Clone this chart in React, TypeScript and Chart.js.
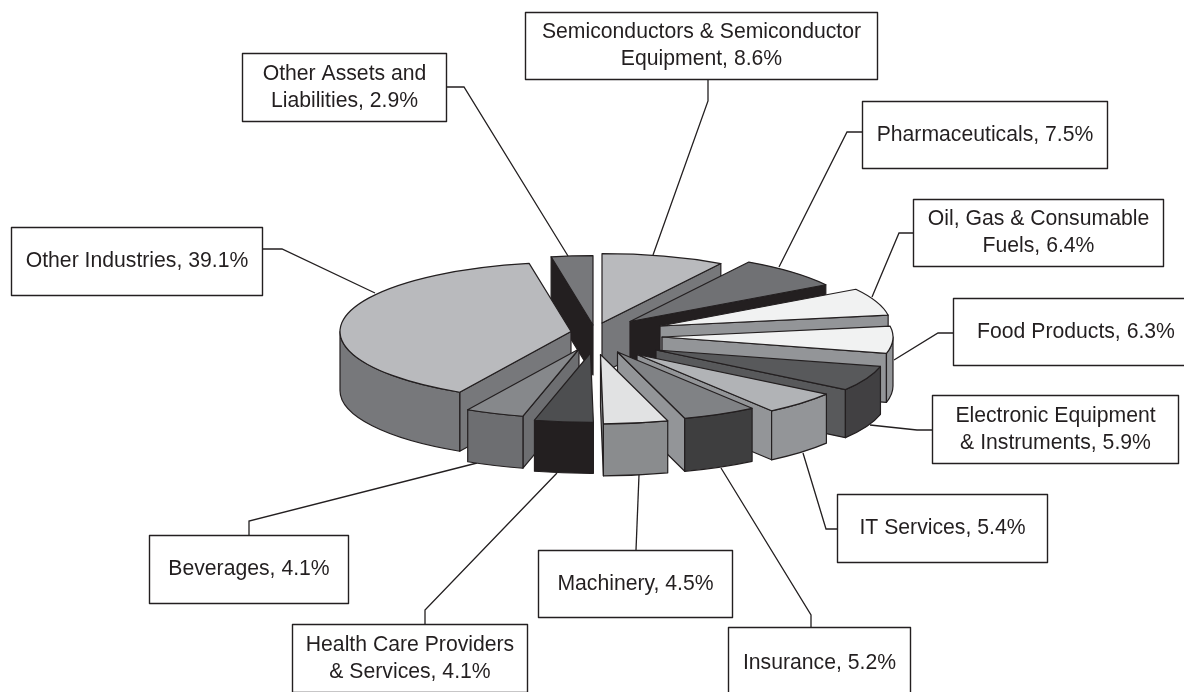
import React, { useEffect, useRef } from "react";
import { Chart, registerables } from "chart.js";

Chart.register(...registerables);

const categories = [
  "Semiconductors & Semiconductor Equipment",
  "Pharmaceuticals",
  "Oil, Gas & Consumable Fuels",
  "Food Products",
  "Electronic Equipment & Instruments",
  "IT Services",
  "Insurance",
  "Machinery",
  "Health Care Providers & Services",
  "Beverages",
  "Other Industries",
  "Other Assets and Liabilities",
];
const shares = [8.6, 7.5, 6.4, 6.3, 5.9, 5.4, 5.2, 4.5, 4.1, 4.1, 39.1, 2.9];

const labelLines = [
  ["Semiconductors & Semiconductor", "Equipment, 8.6%"],
  ["Pharmaceuticals, 7.5%"],
  ["Oil, Gas & Consumable", "Fuels, 6.4%"],
  ["Food Products, 6.3%"],
  ["Electronic Equipment", "& Instruments, 5.9%"],
  ["IT Services, 5.4%"],
  ["Insurance, 5.2%"],
  ["Machinery, 4.5%"],
  ["Health Care Providers", "& Services, 4.1%"],
  ["Beverages, 4.1%"],
  ["Other Industries, 39.1%"],
  ["Other Assets and", "Liabilities, 2.9%"],
];

// Styling per slice: top face, outer wall, cut wall
const topColors = ["#b9babd", "#707174", "#f1f2f2", "#f1f2f2", "#58595b", "#b1b3b6", "#808285", "#e1e2e3", "#4d4e50", "#86888b", "#b9babd", "#77787b"];
const outerColors = ["#b9babd", "#707174", "#939598", "#939598", "#414042", "#939598", "#3e3e3f", "#8a8c8e", "#231f20", "#6d6e71", "#77787b", "#77787b"];
const wallColors = ["#77787b", "#231f20", "#939598", "#939598", "#58595b", "#939598", "#939598", "#8a8c8e", "#231f20", "#6d6e71", "#77787b", "#231f20"];

// Layout: how far each slice is pulled from the pie centre, in px
const pullX = [10, 38, 68, 70, 64, 45, 25.5, 8.5, -1.5, -13, -21, 1];
const pullY = [-10, -11.5, -7, 4, 17, 21.5, 19, 21.5, 20, 16, -1.5, -8];
const depths = [50, 50, 50, 49, 48, 49, 53, 52, 51, 52, 59, 50];

// Layout: label boxes [left, top, right, bottom]
const boxes = [
  [525, 12, 878, 80],
  [862, 101, 1108, 169],
  [913, 199, 1164, 267],
  [953, 298, 1199, 366],
  [932, 395, 1179, 464],
  [837, 494, 1048, 563],
  [728, 627, 911, 699],
  [538, 550, 733, 618],
  [292, 624, 528, 693],
  [149, 535, 349, 604],
  [11, 227, 263, 296],
  [242, 53, 447, 122],
];
// Layout: leader polylines
const leaders = [
  [[708, 80], [708, 101], [653, 255]],
  [[862, 132], [847, 132], [779, 267]],
  [[913, 233], [899, 233], [872, 297]],
  [[953, 333], [938, 333], [894, 360]],
  [[932, 430], [917, 430], [870, 425]],
  [[837, 529], [826, 529], [803, 453]],
  [[811, 627], [811, 615], [721, 468]],
  [[636, 550], [639, 475]],
  [[425, 624], [425, 610], [557, 473]],
  [[249, 535], [249, 521], [477, 463]],
  [[263, 249], [282, 249], [375, 293]],
  [[447, 87], [464, 87], [568, 256]],
];

const SQUASH = 0.3;
const INK = "#231f20";
const FONT = '21.2px "Liberation Sans", Arial, sans-serif';
const LINE_GAP = 27;

const pie3d = {
  id: "pie3d",
  beforeDatasetDraw(chart: any) {
    const { ctx } = chart;
    const arcs = chart.getDatasetMeta(0).data;
    const order = arcs
      .map((arc: any, i: number) => {
        const mid = (arc.startAngle + arc.endAngle) / 2;
        return { i, key: Math.sin(mid) };
      })
      .sort((a: any, b: any) => a.key - b.key);

    const face = (fill: string, trace: () => void) => {
      ctx.beginPath();
      trace();
      ctx.closePath();
      ctx.fillStyle = fill;
      ctx.fill();
      ctx.lineWidth = 1.2;
      ctx.lineJoin = "round";
      ctx.strokeStyle = INK;
      ctx.stroke();
    };

    ctx.save();
    // Leader lines go under the pie
    ctx.strokeStyle = INK;
    ctx.lineWidth = 1.3;
    leaders.forEach((pts) => {
      ctx.beginPath();
      pts.forEach(([x, y], n) => (n ? ctx.lineTo(x, y) : ctx.moveTo(x, y)));
      ctx.stroke();
    });

    order.forEach(({ i }: any) => {
      const arc = arcs[i];
      const r = arc.outerRadius;
      const ry = r * SQUASH;
      const ax = arc.x + pullX[i];
      const ay = arc.y + pullY[i];
      const a0 = arc.startAngle;
      const a1 = arc.endAngle;
      const d = depths[i];
      const pt = (a: number, dz = 0): [number, number] => [ax + r * Math.cos(a), ay + ry * Math.sin(a) + dz];
      const ring = (from: number, to: number, dz: number, ccw = false) =>
        ctx.ellipse(ax, ay + dz, r, ry, 0, from, to, ccw);

      const mid = (a0 + a1) / 2;
      const m = [Math.cos(mid), SQUASH * Math.sin(mid)];
      [a0, a1].forEach((a) => {
        const e = [Math.cos(a), SQUASH * Math.sin(a)];
        let nx = -e[1];
        let ny = e[0];
        if (nx * m[0] + ny * m[1] < 0) {
          nx = -nx;
          ny = -ny;
        }
        if (ny < -1e-3) {
          const p = pt(a);
          face(wallColors[i], () => {
            ctx.moveTo(ax, ay);
            ctx.lineTo(p[0], p[1]);
            ctx.lineTo(p[0], p[1] + d);
            ctx.lineTo(ax, ay + d);
          });
        }
      });

      // Outer wall: only where the rim faces the viewer (sin > 0)
      const from = Math.max(a0, 0);
      const to = Math.min(a1, Math.PI);
      const wrapFrom = Math.max(a0, 2 * Math.PI);
      const wrapTo = Math.min(a1, 3 * Math.PI);
      const rim = (s: number, t: number) => {
        if (t <= s) return;
        face(outerColors[i], () => {
          ring(s, t, 0);
          ring(t, s, d, true);
        });
      };
      rim(from, to);
      rim(wrapFrom, wrapTo);

      face(topColors[i], () => {
        ctx.moveTo(ax, ay);
        ring(a0, a1, 0);
      });
    });

    // Label boxes
    ctx.font = FONT;
    ctx.textAlign = "center";
    ctx.textBaseline = "middle";
    boxes.forEach(([l, t, r, b], i) => {
      ctx.fillStyle = "#ffffff";
      ctx.strokeStyle = INK;
      ctx.lineWidth = 1.4;
      ctx.fillRect(l, t, r - l, b - t);
      ctx.strokeRect(l + 0.5, t + 0.5, r - l - 1, b - t - 1);
      ctx.fillStyle = INK;
      const lines = labelLines[i];
      const cy = (t + b) / 2;
      lines.forEach((line, n) => {
        ctx.fillText(line, (l + r) / 2, cy + (n - (lines.length - 1) / 2) * LINE_GAP);
      });
    });
    ctx.restore();
    return false;
  },
};

export default function App() {
  const ref = useRef<HTMLCanvasElement>(null);
  useEffect(() => {
    document.body.style.margin = "0";
    document.body.style.background = "#ffffff";
    const chart = new Chart(ref.current!, {
      type: "pie",
      data: {
        labels: categories,
        datasets: [{ data: shares, borderWidth: 0 }],
      },
      options: {
        responsive: false,
        animation: false,
        radius: 231,
        layout: { padding: { bottom: 26 } },
        plugins: { legend: { display: false }, tooltip: { enabled: false }, title: { display: false } },
      } as any,
      plugins: [pie3d as any],
    });
    return () => chart.destroy();
  }, []);
  return <canvas ref={ref} width={1184} height={692} style={{ display: "block" }} />;
}
